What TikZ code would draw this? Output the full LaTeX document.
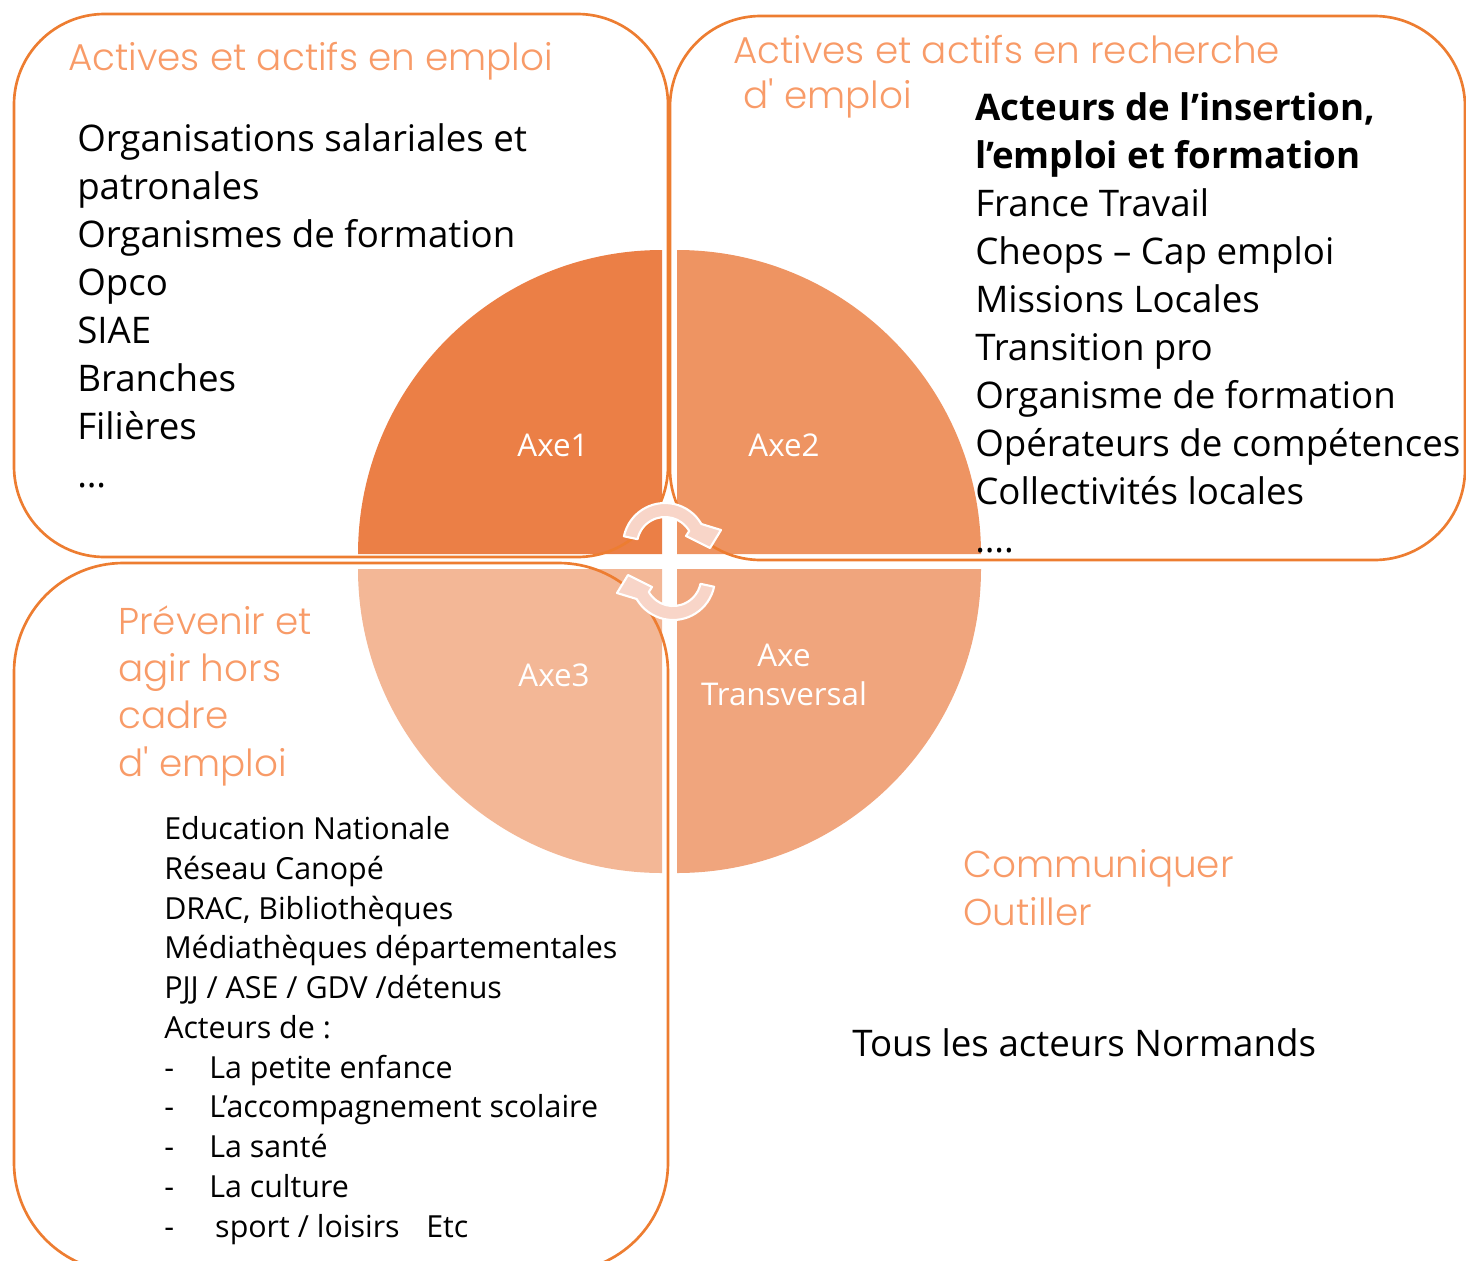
\documentclass[tikz,border=0pt]{standalone}
\usepackage{fontspec}
\usepackage{color}
\usepackage{tikz}
\setmainfont{Open Sans}
\IfFontExistsTF{Poppins Light}{\newfontfamily\headfont{Poppins Light}}{\newfontfamily\headfont{Poppins}}
\definecolor{axeone}{RGB}{235,127,70}
\definecolor{axetwo}{RGB}{238,148,98}
\definecolor{axethree}{RGB}{243,183,150}
\definecolor{axetrans}{RGB}{240,165,125}
\definecolor{boxorange}{RGB}{237,125,49}
\definecolor{headorange}{RGB}{248,155,104}
\definecolor{cyclefill}{RGB}{248,213,200}

\begin{document}
\begin{tikzpicture}[x=0.75pt,y=0.75pt,yscale=-1,xscale=1,
  boxline/.style={draw=boxorange,line width=2pt},
  headtext/.style={text=headorange,font=\headfont\fontsize{28}{35.5}\selectfont,anchor=base west,inner sep=0pt,align=left},
  bodytext/.style={text=black,font=\fontsize{27.5}{36}\selectfont,anchor=base west,inner sep=0pt,align=left},
  smalltext/.style={text=black,font=\fontsize{22.8}{29.8}\selectfont,anchor=base west,inner sep=0pt,align=left},
  axelabel/.style={text=white,font=\fontsize{23.5}{29}\selectfont,inner sep=0pt,align=center},
  cyclearrow/.style={fill=cyclefill,draw=white,line width=1.6pt,line join=round}]
\useasboundingbox (0,0) rectangle (1466,1260);

%Shape: Pie [id:axe1]
\fill[axeone] (662,554) -- ++(-304,0) arc[start angle=180,end angle=270,radius=304] -- cycle;
%Shape: Pie [id:axe2]
\fill[axetwo] (677,554) -- ++(0,-304) arc[start angle=270,end angle=360,radius=304] -- cycle;
%Shape: Pie [id:axe3]
\fill[axethree] (662,569) -- ++(0,304) arc[start angle=90,end angle=180,radius=304] -- cycle;
%Shape: Pie [id:axetransversal]
\fill[axetrans] (677,569) -- ++(304,0) arc[start angle=0,end angle=90,radius=304] -- cycle;

%Shape: Rounded Rect [id:emploi]
\draw[boxline,rounded corners=68pt] (14,14) rectangle (668,557);
%Shape: Rounded Rect [id:recherche]
\draw[boxline,rounded corners=68pt] (670,16) rectangle (1465,560);
%Shape: Rounded Rect [id:horscadre]
\draw[boxline,rounded corners=82pt] (14,563) rectangle (668,1272);

%Shape: Circular Arrow [id:cycletop]
\draw[cyclearrow] (665,545) ++(192:42) arc[start angle=192,end angle=330,radius=42] -- (721,530) -- (710,548) -- (686,536) -- (689.2,531) arc[start angle=330,end angle=192,radius=28] -- cycle;
%Shape: Circular Arrow [id:cyclebottom]
\begin{scope}[rotate around={180:(669,561.5)}]
\draw[cyclearrow] (665,545) ++(192:42) arc[start angle=192,end angle=330,radius=42] -- (721,530) -- (710,548) -- (686,536) -- (689.2,531) arc[start angle=330,end angle=192,radius=28] -- cycle;
\end{scope}

% Text Node
\draw (553,445) node (axe1) [axelabel] {Axe1};
% Text Node
\draw (784,445) node (axe2) [axelabel] {Axe2};
% Text Node
\draw (554,675) node (axe3) [axelabel] {Axe3};
% Text Node
\draw (784,675) node (axetr) [axelabel] {Axe\\Transversal};

% Text Node (base = last line)
\draw (68,70) node (titreemploi) [headtext] {Actives et actifs en emploi};
% Text Node
\draw (77,487) node (listeemploi) [bodytext] {Organisations salariales et\\patronales\\Organismes de formation\\Opco\\SIAE\\Branches\\Filières\\…};
% Text Node
\draw (733,108) node (titrerecherche) [headtext,font=\headfont\fontsize{28}{33.75}\selectfont] {Actives et actifs en recherche\\\hspace*{7.5pt}d' emploi};
% Text Node
\draw (975,552) node (listerecherche) [bodytext] {\textbf{Acteurs de l’insertion,}\\\textbf{l’emploi et formation}\\France Travail\\Cheops – Cap emploi\\Missions Locales\\Transition pro\\Organisme de formation\\Opérateurs de compétences\\Collectivités locales\\….};
% Text Node
\draw (118,776) node (titrehors) [headtext] {Prévenir et\\agir hors\\cadre\\d' emploi};
% Text Node
\draw (164,1237) node (listehors) [smalltext] {Education Nationale\\Réseau Canopé\\DRAC, Bibliothèques\\Médiathèques départementales\\PJJ / ASE / GDV /détenus\\Acteurs de :\\\makebox[33.75pt][l]{-}La petite enfance\\\makebox[33.75pt][l]{-}L’accompagnement scolaire\\\makebox[33.75pt][l]{-}La santé\\\makebox[33.75pt][l]{-}La culture\\\makebox[38.25pt][l]{-}sport / loisirs\hspace{20pt}Etc};
% Text Node
\draw (963,925) node (titreoutil) [headtext] {Communiquer\\Outiller};
% Text Node
\draw (852,1056) node (normands) [bodytext] {Tous les acteurs Normands};

\end{tikzpicture}
\end{document}
